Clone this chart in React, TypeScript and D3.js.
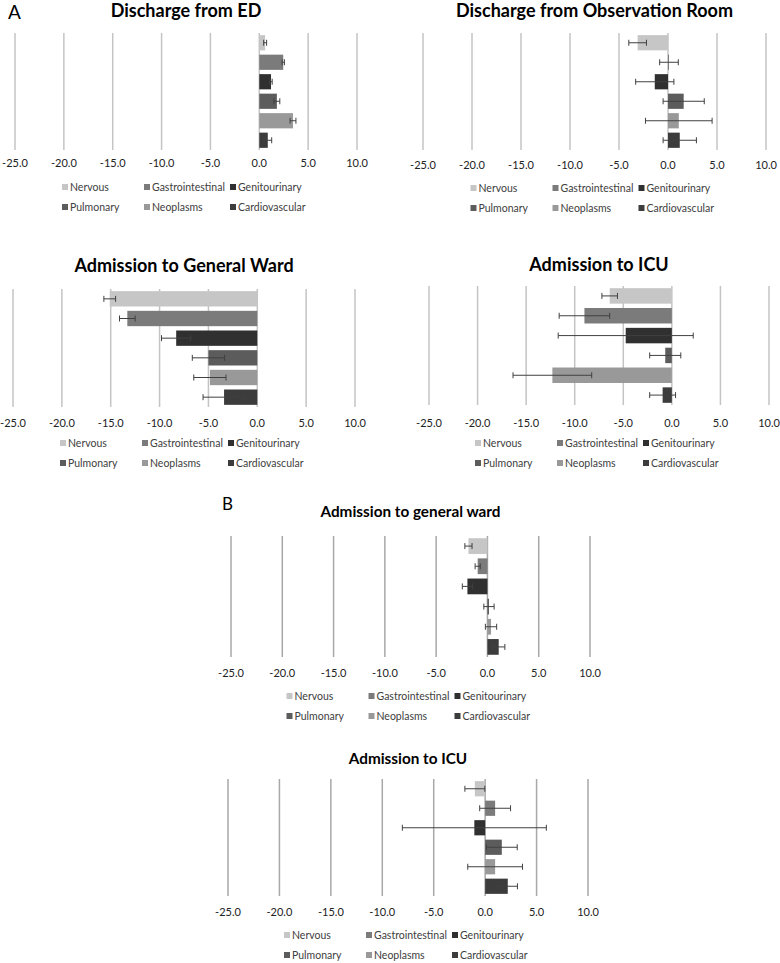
import React from "react";
import * as d3 from "d3";

const categories = ["Nervous", "Gastrointestinal", "Genitourinary", "Pulmonary", "Neoplasms", "Cardiovascular"];
const categoryColors = ["#c6c6c6", "#7b7b7b", "#303030", "#5c5c5c", "#999999", "#3c3c3c"];
const tickValues = [-25, -20, -15, -10, -5, 0, 5, 10];

const dischargeEDValues = [0.6, 2.45, 1.2, 1.8, 3.45, 0.87];
const dischargeEDErrors = [0.15, 0.12, 0.12, 0.3, 0.3, 0.4];
const dischargeObsValues = [-3.1, 0.1, -1.35, 1.6, 1.1, 1.2];
const dischargeObsErrors = [0.9, 0.95, 1.95, 2.1, 3.4, 1.7];
const wardAValues = [-15.1, -13.3, -8.3, -5.0, -4.85, -3.4];
const wardAErrors = [0.6, 0.8, 1.5, 1.65, 1.65, 2.15];
const icuAValues = [-6.4, -9.0, -4.75, -0.68, -12.3, -0.95];
const icuAErrors = [0.8, 2.6, 6.95, 1.6, 4.05, 1.33];
const wardBValues = [-1.85, -0.95, -1.95, 0.15, 0.35, 1.1];
const wardBErrors = [0.35, 0.25, 0.5, 0.5, 0.55, 0.6];
const icuBValues = [-1.0, 0.97, -1.05, 1.62, 0.97, 2.2];
const icuBErrors = [0.97, 1.5, 7.0, 1.5, 2.66, 0.94];

type PanelProps = {
  title: string;
  values: number[];
  errors: number[];
  x0: number;
  x1: number;
  gridTop: number;
  gridBottom: number;
  titleY: number;
  titleSize: number;
  tickY: number;
  legendY: number;
  gridColor: string;
};

const FONT = "Lato, 'Open Sans', sans-serif";
const locale = d3.formatLocale({ decimal: ".", thousands: ",", grouping: [3], currency: ["", ""], minus: "-" });
const fmt = locale.format(".1f");

function Panel(p: PanelProps) {
  const x = d3.scaleLinear().domain([-25, 10]).range([p.x0, p.x1]);
  const y = d3.scaleBand<string>().domain(categories).range([p.gridTop, p.gridBottom]).paddingInner(0.22).paddingOuter(0.11);
  const cx = (p.x0 + p.x1) / 2;
  const legendCols = [cx - 121, cx - 39, cx + 47];
  const capH = 6;
  return (
    <g>
      <text x={cx} y={p.titleY} textAnchor="middle" fontFamily={FONT} fontWeight="bold" fontSize={p.titleSize} fill="#000">
        {p.title}
      </text>
      {tickValues.map((t) => (
        <line key={"g" + t} x1={x(t)} x2={x(t)} y1={p.gridTop} y2={p.gridBottom} stroke={p.gridColor} strokeWidth={1.5} />
      ))}
      {tickValues.map((t) => (
        <text key={"t" + t} x={x(t)} y={p.tickY} textAnchor="middle" fontFamily={FONT} fontSize={11} fill="#222">
          {fmt(t)}
        </text>
      ))}
      {categories.map((c, i) => {
        const v = p.values[i];
        const by = y(c)!;
        return (
          <rect key={"b" + c} x={Math.min(x(0), x(v))} y={by} width={Math.abs(x(v) - x(0))} height={y.bandwidth()} fill={categoryColors[i]} />
        );
      })}
      {categories.map((c, i) => {
        const v = p.values[i];
        const e = p.errors[i];
        const my = y(c)! + y.bandwidth() / 2;
        const xa = x(v - e);
        const xb = x(v + e);
        return (
          <g key={"e" + c} stroke="#404040" strokeWidth={1}>
            <line x1={xa} x2={xb} y1={my} y2={my} />
            <line x1={xa} x2={xa} y1={my - capH / 2} y2={my + capH / 2} />
            <line x1={xb} x2={xb} y1={my - capH / 2} y2={my + capH / 2} />
          </g>
        );
      })}
      {categories.map((c, i) => {
        const col = i % 3;
        const row = Math.floor(i / 3);
        const lx = legendCols[col];
        const ly = p.legendY + row * 20;
        return (
          <g key={"l" + c}>
            <rect x={lx - 3} y={ly - 3} width={6} height={6} fill={categoryColors[i]} />
            <text x={lx + 5} y={ly + 4} fontFamily={FONT} fontSize={10.5} fill="#404040">
              {c}
            </text>
          </g>
        );
      })}
    </g>
  );
}

export default function App() {
  return (
    <svg width={780} height={963} style={{ position: "absolute", left: 0, top: 0, background: "#fff" }}>
      <text x={8} y={19} fontFamily={FONT} fontSize={19} fill="#000">A</text>
      <text x={222} y={510} fontFamily={FONT} fontSize={17} fill="#000">B</text>
      <Panel title="Discharge from ED" values={dischargeEDValues} errors={dischargeEDErrors}
        x0={15} x1={357} gridTop={33} gridBottom={150} titleY={16.5} titleSize={18} tickY={167} legendY={187} gridColor="#c4c4c4" />
      <Panel title="Discharge from Observation Room" values={dischargeObsValues} errors={dischargeObsErrors}
        x0={423} x1={766} gridTop={33} gridBottom={150} titleY={16.5} titleSize={18} tickY={169} legendY={188} gridColor="#c4c4c4" />
      <Panel title="Admission to General Ward" values={wardAValues} errors={wardAErrors}
        x0={13} x1={355} gridTop={289} gridBottom={407} titleY={271.5} titleSize={18} tickY={427} legendY={443} gridColor="#c4c4c4" />
      <Panel title="Admission to ICU" values={icuAValues} errors={icuAErrors}
        x0={429} x1={769} gridTop={286} gridBottom={405} titleY={270.5} titleSize={18} tickY={427} legendY={443} gridColor="#c4c4c4" />
      <Panel title="Admission to general ward" values={wardBValues} errors={wardBErrors}
        x0={231} x1={590} gridTop={536} gridBottom={657} titleY={516.5} titleSize={15.3} tickY={677} legendY={696} gridColor="#a8a8a8" />
      <Panel title="Admission to ICU" values={icuBValues} errors={icuBErrors}
        x0={228} x1={588} gridTop={779} gridBottom={896} titleY={763.5} titleSize={15.3} tickY={916} legendY={935} gridColor="#a8a8a8" />
    </svg>
  );
}
